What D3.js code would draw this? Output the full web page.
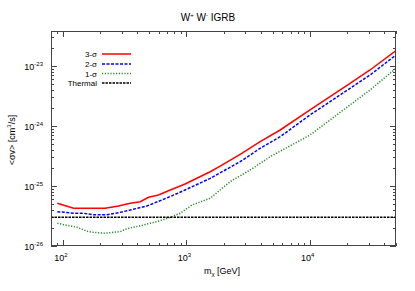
<!DOCTYPE html>
<html><head><meta charset="utf-8">
<script src="https://cdn.jsdelivr.net/npm/d3@7"></script>
<style>body{margin:0;background:#fff}svg{display:block;font-family:"Liberation Sans",Arial,sans-serif}</style>
</head><body><svg id="c" width="415" height="291"></svg>
<script>
const sigma3M = [90,122,220,282,351,423,494,594,716,977,1559,1878,2728,3963,5757,10050,21200,30800,50000];
const sigma3V = [5.15e-26,4.25e-26,4.25e-26,4.64e-26,5.15e-26,5.47e-26,6.48e-26,7.08e-26,8.35e-26,1.08e-25,1.73e-25,2.15e-25,3.37e-25,5.47e-25,8.58e-25,1.85e-24,5.15e-24,8.58e-24,1.8e-23];
const sigma2M = [90,126,147,177,227,282,351,479,716,977,1559,2728,3963,5757,10050,21200,30800,50000];
const sigma2V = [3.73e-26,3.51e-26,3.51e-26,3.32e-26,3.32e-26,3.59e-26,3.98e-26,4.64e-26,6.48e-26,8.58e-26,1.34e-25,2.54e-25,4.25e-25,6.63e-25,1.53e-24,4.25e-24,7.08e-24,1.53e-23];
const sigma1M = [90,130,161,213,291,330,450,614,740,891,1109,1559,2264,3289,4777,10050,21200,30800,50000];
const sigma1V = [2.39e-26,2.05e-26,1.73e-26,1.63e-26,1.73e-26,1.94e-26,2.24e-26,2.64e-26,3.01e-26,3.51e-26,4.82e-26,6.24e-26,1.18e-25,1.85e-25,3.08e-25,7.08e-25,2.24e-24,3.98e-24,9.16e-24];
const thermalM = [80,50000];
const thermalV = [3e-26,3e-26];
const xTicks = [100,1000,10000];
const yTicks = [1e-26,1e-25,1e-24,1e-23];
const legendLabels = ["3-σ","2-σ","1-σ","Thermal"];

const svg = d3.select("#c");
const L=51,R=396,T=31,B=246;
const x = d3.scaleLog().domain([80,50000]).range([L,R]);
const y = d3.scaleLog().domain([1e-26,Math.pow(10,-26+215/60)]).range([B,T]);
const frame="#444";

svg.append("text").attr("x",208).attr("y",21).attr("text-anchor","middle").attr("font-size",10).attr("fill","#000")
 .html('W<tspan dy="-4" font-size="6">+</tspan><tspan dy="4"> W</tspan><tspan dy="-4" font-size="6">-</tspan><tspan dy="4"> IGRB</tspan>');

// minor/major ticks
const xMinor=[]; for(let d=10;d<=10000;d*=10) for(let k=1;k<10;k++){const v=d*k; if(v>=80&&v<=50000) xMinor.push(v);}
const yMinor=[]; for(let e=-26;e<=-23;e++) for(let k=1;k<10;k++){const v=k*Math.pow(10,e); if(v>=1e-26&&v<=y.domain()[1]) yMinor.push(v);}
const g=svg.append("g").attr("stroke",frame).attr("stroke-width",1);
xMinor.forEach(v=>{const isMaj=xTicks.includes(v);const len=isMaj?6:3;const px=Math.round(x(v))+0.5;
 g.append("line").attr("x1",px).attr("x2",px).attr("y1",B).attr("y2",B-len);
 g.append("line").attr("x1",px).attr("x2",px).attr("y1",T).attr("y2",T+len);});
yMinor.forEach(v=>{const isMaj=yTicks.some(t=>Math.abs(t-v)/t<1e-6);const len=isMaj?6:3;const py=Math.round(y(v))+0.5;
 g.append("line").attr("x1",L).attr("x2",L+len).attr("y1",py).attr("y2",py);
 g.append("line").attr("x1",R).attr("x2",R-len).attr("y1",py).attr("y2",py);});

// labels
xTicks.forEach(v=>{const e=Math.round(Math.log10(v));
 svg.append("text").attr("x",x(v)-2).attr("y",B+15).attr("text-anchor","middle").attr("font-size",9).attr("fill","#000")
 .html(`10<tspan dy="-4" font-size="6">${e}</tspan>`);});
yTicks.forEach(v=>{const e=Math.round(Math.log10(v));
 svg.append("text").attr("x",43).attr("y",y(v)+4).attr("text-anchor","end").attr("font-size",9).attr("fill","#000")
 .html(`10<tspan dy="-4" font-size="6">${e}</tspan>`);});
svg.append("text").attr("x",222).attr("y",274).attr("text-anchor","middle").attr("font-size",9).attr("fill","#000")
 .html('m<tspan dy="2" font-size="6">χ</tspan><tspan dy="-2"> [GeV]</tspan>');
svg.append("text").attr("transform","translate(15,140) rotate(-90)").attr("text-anchor","middle").attr("font-size",9).attr("fill","#000")
 .html('&lt;σv&gt; [cm<tspan dy="-4" font-size="6">3</tspan><tspan dy="4">/s]</tspan>');

const line=d3.line().x(d=>x(d[0])).y(d=>y(d[1]));
const series=[
 {m:sigma3M,v:sigma3V,c:"#ff0000",dash:null,w:1.5},
 {m:sigma2M,v:sigma2V,c:"#0000ff",dash:"3,1.5",w:1.5},
 {m:sigma1M,v:sigma1V,c:"#228b22",dash:"1.2,1.6",w:1.5},
 {m:thermalM,v:thermalV,c:"#000",dash:"2.5,1",w:1.5}];
const clip=svg.append("clipPath").attr("id","cp").append("rect").attr("x",L).attr("y",T).attr("width",R-L).attr("height",B-T);
series.forEach(s=>{
 svg.append("path").attr("clip-path","url(#cp)").attr("d",line(s.m.map((m,i)=>[m,s.v[i]]))).attr("fill","none")
 .attr("stroke",s.c).attr("stroke-width",s.w).attr("stroke-dasharray",s.dash);});
// legend
const ly=[54,64,73.5,83];
series.forEach((s,i)=>{
 svg.append("text").attr("x",97).attr("y",ly[i]+3).attr("text-anchor","end").attr("font-size",8).attr("fill","#000").text(legendLabels[i]);
 svg.append("line").attr("x1",102).attr("x2",131).attr("y1",ly[i]).attr("y2",ly[i]).attr("stroke",s.c).attr("stroke-width",s.w).attr("stroke-dasharray",s.dash);});

svg.append("rect").attr("x",L+0.5).attr("y",T+0.5).attr("width",R-L-1).attr("height",B-T-1).attr("fill","none").attr("stroke",frame).attr("stroke-width",1);
</script></body></html>
